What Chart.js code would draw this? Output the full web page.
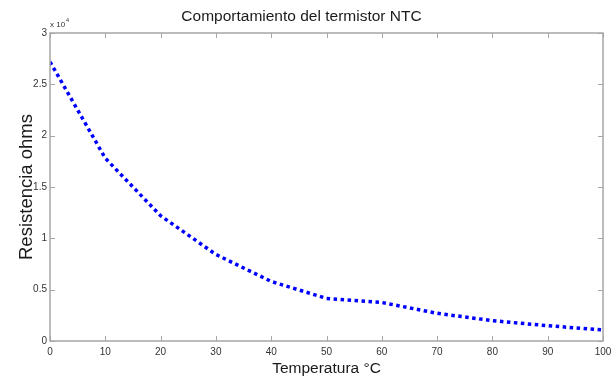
<!DOCTYPE html>
<html>
<head>
<meta charset="utf-8">
<script src="https://cdn.jsdelivr.net/npm/chart.js@4/dist/chart.umd.min.js"></script>
<style>
  html, body { margin: 0; padding: 0; background: #ffffff; }
  canvas { display: block; }
</style>
</head>
<body>
<canvas id="c" width="611" height="379"></canvas>
<script>
// Temperature (°C) and resistance (ohms)
const temperaturas = [0, 10, 20, 30, 40, 50, 60, 70, 80, 90, 100];
const resistencias = [27200, 17800, 12200, 8430, 5800, 4150, 3750, 2700, 1980, 1490, 1070];
const xTicks = [0, 10, 20, 30, 40, 50, 60, 70, 80, 90, 100];
const yTicks = [0, 0.5, 1, 1.5, 2, 2.5, 3]; // x 10^4
const yMultiplier = 1e4;

const SANS = "'Liberation Sans', Arial, sans-serif";
const AXIS_GRAY = '#a6a6a6';

const matlabAxes = {
  id: 'matlabAxes',
  afterDraw(chart) {
    const ctx = chart.ctx;
    const a = chart.chartArea;
    const xs = chart.scales.x, ys = chart.scales.y;
    ctx.save();
    ctx.strokeStyle = AXIS_GRAY;
    ctx.lineWidth = 1.5;
    ctx.strokeRect(a.left, a.top, a.right - a.left, a.bottom - a.top);
    ctx.lineWidth = 1;
    const tl = 5;
    ctx.beginPath();
    xTicks.forEach(v => {
      const px = Math.round(xs.getPixelForValue(v)) + 0.5;
      ctx.moveTo(px, a.bottom); ctx.lineTo(px, a.bottom - tl);
      ctx.moveTo(px, a.top); ctx.lineTo(px, a.top + tl);
    });
    yTicks.forEach(v => {
      const py = Math.round(ys.getPixelForValue(v * yMultiplier)) + 0.5;
      ctx.moveTo(a.left, py); ctx.lineTo(a.left + tl, py);
      ctx.moveTo(a.right, py); ctx.lineTo(a.right - tl, py);
    });
    ctx.stroke();
    // exponent label
    ctx.fillStyle = '#333333';
    ctx.textBaseline = 'alphabetic';
    ctx.textAlign = 'left';
    ctx.font = '8px ' + SANS;
    ctx.fillText('x 10', a.left, a.top - 6);
    const w = ctx.measureText('x 10').width;
    ctx.font = '5.5px ' + SANS;
    ctx.fillText('4', a.left + w + 1, a.top - 11);
    ctx.restore();
  }
};

new Chart(document.getElementById('c'), {
  type: 'line',
  data: {
    datasets: [{
      data: temperaturas.map((t, i) => ({ x: t, y: resistencias[i] })),
      borderColor: '#0000ff',
      borderWidth: 3.5,
      borderDash: [3.5, 3.5],
      borderCapStyle: 'butt',
      pointRadius: 0,
      tension: 0,
      fill: false
    }]
  },
  options: {
    responsive: false,
    animation: false,
    devicePixelRatio: 1,
    layout: { padding: { left: 0, right: 8, top: 0, bottom: 0 } },
    plugins: {
      legend: { display: false },
      tooltip: { enabled: false },
      title: {
        display: true,
        text: 'Comportamiento del termistor NTC',
        color: '#1a1a1a',
        font: { family: SANS, size: 15.5, weight: 'normal', lineHeight: 1.2 },
        padding: { top: 7, bottom: 7.4 }
      }
    },
    scales: {
      x: {
        type: 'linear',
        min: 0, max: 100,
        afterBuildTicks: s => { s.ticks = xTicks.map(v => ({ value: v })); },
        afterFit: s => { s.height = 38; s.paddingLeft = 0; s.paddingRight = 0; },
        grid: { display: false, drawTicks: false },
        border: { display: false },
        ticks: {
          color: '#333333',
          font: { family: SANS, size: 10 },
          padding: 5,
          maxRotation: 0,
          autoSkip: false
        },
        title: {
          display: true,
          text: 'Temperatura °C',
          color: '#1a1a1a',
          font: { family: SANS, size: 15.5, lineHeight: 1.2 },
          padding: { top: 0, bottom: 1 }
        }
      },
      y: {
        type: 'linear',
        min: 0, max: 30000,
        afterBuildTicks: s => { s.ticks = yTicks.map(v => ({ value: v * yMultiplier })); },
        afterFit: s => { s.width = 50; s.paddingTop = 0; s.paddingBottom = 0; },
        grid: { display: false, drawTicks: false },
        border: { display: false },
        ticks: {
          color: '#333333',
          font: { family: SANS, size: 10 },
          padding: 3,
          autoSkip: false,
          callback: v => String(v / yMultiplier)
        },
        title: {
          display: true,
          text: 'Resistencia ohms',
          color: '#1a1a1a',
          font: { family: SANS, size: 18.5, lineHeight: 1.2 },
          padding: { top: 16, bottom: 0 }
        }
      }
    }
  },
  plugins: [matlabAxes]
});
</script>
</body>
</html>
